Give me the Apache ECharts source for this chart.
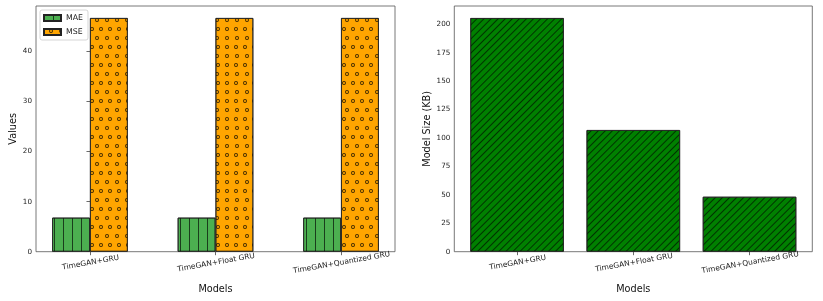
<!DOCTYPE html>
<html>
<head>
<meta charset="utf-8">
<script src="https://cdn.jsdelivr.net/npm/echarts@6/dist/echarts.min.js"></script>
<style>
html,body{margin:0;padding:0;background:#fff;}
#c{width:823px;height:301px;}
</style>
</head>
<body>
<div id="c"></div>
<script>
// ---- data ----
const categories = ['TimeGAN+GRU', 'TimeGAN+Float GRU', 'TimeGAN+Quantized GRU'];
const maeValues = [6.8, 6.8, 6.8];
const mseValues = [46.7, 46.7, 46.7];
const sizeValues = [205.5, 107.0, 48.3];
const leftTicks = [0, 10, 20, 30, 40];
const rightTicks = [0, 25, 50, 75, 100, 125, 150, 175, 200];
const catTicks = [0, 1, 2];

const FONT = 'DejaVu Sans';
const ring = 'path://M5,0A5,5,0,1,1,5,10A5,5,0,1,1,5,0ZM5,2.2A2.8,2.8,0,1,0,5,7.8A2.8,2.8,0,1,0,5,2.2Z';

const chart = echarts.init(document.getElementById('c'), null, {renderer: 'canvas'});

function xAxisCfg(gridIndex, min, max) {
  return {
    type: 'value', gridIndex: gridIndex, min: min, max: max,
    name: 'Models', nameLocation: 'middle', nameGap: 33,
    nameTextStyle: {fontFamily: FONT, fontSize: 9.7, color: '#111'},
    axisLine: {show: false},
    splitLine: {show: false},
    axisTick: {show: true, length: 3.5, customValues: catTicks, lineStyle: {color: '#444', width: 0.8}},
    axisLabel: {
      customValues: catTicks, rotate: 10, align: 'center', verticalAlign: 'top', margin: 7,
      fontFamily: FONT, fontSize: 7.5, color: '#222',
      formatter: function (v) { return categories[Math.round(v)] || ''; }
    }
  };
}
function yAxisCfg(gridIndex, max, ticks, name, gap) {
  return {
    type: 'value', gridIndex: gridIndex, min: 0, max: max,
    name: name, nameLocation: 'middle', nameGap: gap,
    nameTextStyle: {fontFamily: FONT, fontSize: 9.7, color: '#111'},
    axisLine: {show: false},
    splitLine: {show: false},
    axisTick: {show: true, length: 3.5, customValues: ticks, lineStyle: {color: '#444', width: 0.8}},
    axisLabel: {customValues: ticks, fontFamily: FONT, fontSize: 7.2, color: '#222', margin: 4}
  };
}

const option = {
  animation: false,
  backgroundColor: '#fff',
  grid: [
    {left: 36, top: 6, width: 359, height: 245.7, show: true, borderColor: '#555', borderWidth: 0.8},
    {left: 454.3, top: 6, width: 358, height: 245.7, show: true, borderColor: '#555', borderWidth: 0.8}
  ],
  xAxis: [xAxisCfg(0, -0.43, 2.43), xAxisCfg(1, -0.54, 2.54)],
  yAxis: [yAxisCfg(0, 49.1, leftTicks, 'Values', 17), yAxisCfg(1, 216.1, rightTicks, 'Model Size (KB)', 22)],
  legend: {
    left: 40, top: 10, orient: 'vertical', icon: 'rect',
    itemWidth: 17, itemHeight: 6, itemGap: 6,
    data: ['MAE', 'MSE'],
    textStyle: {fontFamily: FONT, fontSize: 7.8, color: '#222'},
    borderColor: '#ccc', borderWidth: 0.8, borderRadius: 2, padding: [4, 5, 4, 3],
    backgroundColor: '#fff'
  },
  series: [
    {
      name: 'MAE', type: 'bar', xAxisIndex: 0, yAxisIndex: 0,
      barWidth: 37.8, barGap: '0%',
      data: maeValues.map(function (v, i) { return [i, v]; }),
      itemStyle: {
        color: '#4CAF50', borderColor: '#222', borderWidth: 0.8,
        decal: {symbol: 'rect', symbolSize: 1, color: 'rgba(0,0,0,0.65)',
          dashArrayX: [1, 7.3], dashArrayY: [5, 0]}
      }
    },
    {
      name: 'MSE', type: 'bar', xAxisIndex: 0, yAxisIndex: 0,
      barWidth: 37.8, barGap: '0%',
      data: mseValues.map(function (v, i) { return [i, v]; }),
      itemStyle: {
        color: '#FFA500', borderColor: '#222', borderWidth: 0.8,
        decal: {symbol: ring, symbolSize: 1, symbolKeepAspect: true, color: 'rgba(0,0,0,0.75)',
          dashArrayX: [[3.3, 5.0], [0, 4.15, 3.3, 0.85]], dashArrayY: [3.3, 5.0]}
      }
    },
    {
      name: 'Size', type: 'bar', xAxisIndex: 1, yAxisIndex: 1,
      barWidth: 93.5,
      data: sizeValues.map(function (v, i) { return [i, v]; }),
      itemStyle: {
        color: '#008000', borderColor: '#222', borderWidth: 0.8,
        decal: {symbol: 'rect', symbolSize: 1, color: 'rgba(0,0,0,0.6)',
          dashArrayX: [5, 0], dashArrayY: [0.7, 3.3], rotation: -Math.PI / 4}
      }
    }
  ]
};
chart.setOption(option);
</script>
</body>
</html>
